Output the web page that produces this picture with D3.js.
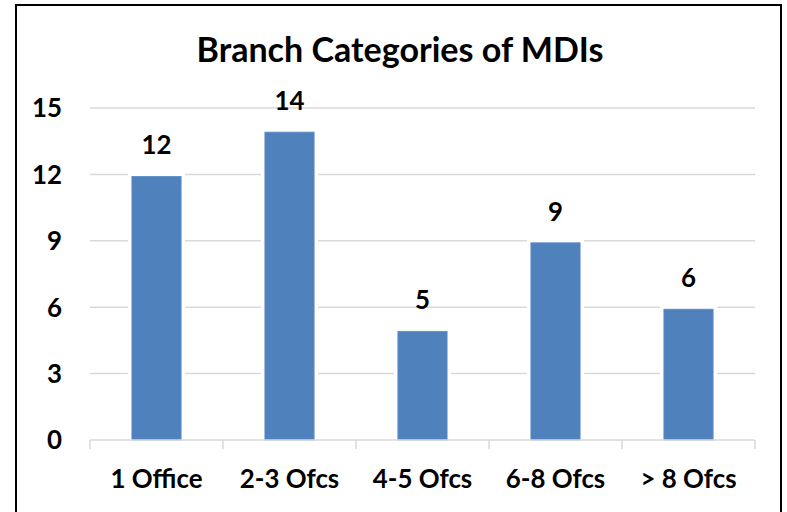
<!DOCTYPE html>
<html>
<head>
<meta charset="utf-8">
<script src="https://cdn.jsdelivr.net/npm/d3@7"></script>
<style>
  html, body { margin: 0; padding: 0; background: #fff; }
  svg { display: block; }
  text { font-family: Lato, "Open Sans", sans-serif; font-weight: bold; fill: #000; }
</style>
</head>
<body>
<svg id="chart" width="787" height="512"></svg>
<script>
const title = "Branch Categories of MDIs";
const categories = ["1 Office", "2-3 Ofcs", "4-5 Ofcs", "6-8 Ofcs", "> 8 Ofcs"];
const values = [12, 14, 5, 9, 6];
const yTicks = [0, 3, 6, 9, 12, 15];

const W = 787, H = 512;
const plot = { left: 90, right: 755, top: 108, bottom: 440 };

const svg = d3.select("#chart");
svg.append("rect").attr("width", W).attr("height", H).attr("fill", "#fff");

// frame
svg.append("rect")
  .attr("x", 16).attr("y", 5).attr("width", 765).attr("height", 540)
  .attr("fill", "none").attr("stroke", "#000").attr("stroke-width", 2);

const x = d3.scaleBand().domain(categories).range([plot.left, plot.right])
  .paddingInner(0.63).paddingOuter(0.315);
const xEdges = d3.scaleBand().domain(categories).range([plot.left, plot.right]).padding(0);
const y = d3.scaleLinear().domain([0, 15]).range([plot.bottom, plot.top]);

// gridlines
svg.append("g").selectAll("line").data(yTicks.filter(t => t > 0)).join("line")
  .attr("x1", plot.left).attr("x2", plot.right)
  .attr("y1", d => y(d)).attr("y2", d => y(d))
  .attr("stroke", "#D9D9D9").attr("stroke-width", 1.5);

// white halo behind bars (gridline gaps)
svg.append("g").selectAll("rect").data(values).join("rect")
  .attr("x", (d, i) => x(categories[i]) - 4)
  .attr("width", x.bandwidth() + 8)
  .attr("y", d => y(d) - 2)
  .attr("height", d => y(0) - y(d))
  .attr("fill", "#fff");

// bars
svg.append("g").selectAll("rect").data(values).join("rect")
  .attr("x", (d, i) => x(categories[i]))
  .attr("width", x.bandwidth())
  .attr("y", d => y(d) + 2)
  .attr("height", d => y(0) - y(d) - 2)
  .attr("fill", "#4F81BD")
  .attr("stroke", "#5B8CC6").attr("stroke-width", 0.8);

// x axis line and ticks
const xa = svg.append("g");
xa.append("line").attr("x1", plot.left).attr("x2", plot.right)
  .attr("y1", y(0)).attr("y2", y(0)).attr("stroke", "#D9D9D9").attr("stroke-width", 1.5);
const edges = categories.map(c => xEdges(c)).concat([plot.right]);
xa.selectAll("line.tk").data(edges).join("line").attr("class", "tk")
  .attr("x1", d => d).attr("x2", d => d)
  .attr("y1", y(0)).attr("y2", y(0) + 9)
  .attr("stroke", "#D9D9D9").attr("stroke-width", 1.5);

const labelSize = 24;
const xl = xa.selectAll("text").data(categories).join("text")
  .attr("x", d => xEdges(d) + xEdges.bandwidth() / 2)
  .attr("y", 488)
  .attr("text-anchor", "middle")
  .attr("font-size", labelSize)
  .text(d => d);
const w0 = xl.nodes()[0].getComputedTextLength();
const fs = labelSize * 92 / w0;
xl.attr("font-size", fs);

// y tick labels
svg.append("g").selectAll("text").data(yTicks).join("text")
  .attr("x", 62).attr("y", d => y(d) + fs * 0.36)
  .attr("text-anchor", "end")
  .attr("font-size", fs)
  .text(d => d);

// value labels
svg.append("g").selectAll("text").data(values).join("text")
  .attr("x", (d, i) => x(categories[i]) + x.bandwidth() / 2)
  .attr("y", d => y(d) - 20)
  .attr("text-anchor", "middle")
  .attr("font-size", fs)
  .text(d => d);

// title
const t = svg.append("text").attr("x", 400).attr("y", 62)
  .attr("text-anchor", "middle").attr("font-size", 30).text(title);
const tw = t.node().getComputedTextLength();
t.attr("font-size", 30 * 407 / tw);
</script>
</body>
</html>
